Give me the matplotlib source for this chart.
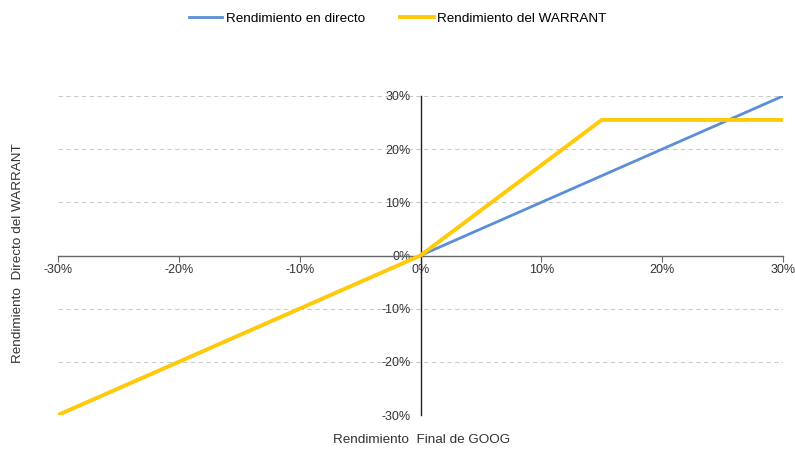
import matplotlib
matplotlib.use("Agg")
import matplotlib.pyplot as plt
from matplotlib.ticker import FuncFormatter

plt.rcParams['font.family'] = ['Liberation Sans', 'DejaVu Sans']

x_final = [-30, 0, 15, 30]
directo = [-30, 0, 15, 30]
warrant = [-30, 0, 25.5, 25.5]
ticks = [-30, -20, -10, 0, 10, 20, 30]

fig = plt.figure(figsize=(7.95, 4.5), dpi=100)
ax = fig.add_axes([58/795, 1-415/450, (783-58)/795, (415-96)/450])

ax.plot(x_final, directo, color='#5B8ED6', lw=2, label='Rendimiento en directo', zorder=3)
ax.plot(x_final, warrant, color='#FFCA08', lw=2.8, label='Rendimiento del WARRANT', zorder=4)

ax.set_xlim(-30, 30)
ax.set_ylim(-30, 30)
ax.set_xticks(ticks)
ax.set_yticks(ticks)
fmt = FuncFormatter(lambda v, p: f"{v:.0f}%")
ax.xaxis.set_major_formatter(fmt)
ax.yaxis.set_major_formatter(fmt)

for s in ['top', 'right']:
    ax.spines[s].set_visible(False)
ax.spines['left'].set_position(('data', 0))
ax.spines['bottom'].set_position(('data', 0))
ax.spines['left'].set_color('#222222')
ax.spines['bottom'].set_color('#666666')
ax.spines['left'].set_linewidth(1)
ax.spines['bottom'].set_linewidth(1)

ax.tick_params(axis='x', direction='out', length=4, color='#666666', labelsize=9, labelcolor='#333333', pad=2)
ax.tick_params(axis='y', length=0, labelsize=9, labelcolor='#333333', pad=7)

ax.yaxis.grid(True, color='#CCCCCC', linestyle=(0, (4, 3)), lw=0.8)
ax.set_axisbelow(True)

fig.text(18/795, 1-253/450, 'Rendimiento  Directo del WARRANT', rotation=90, ha='center', va='center', fontsize=9.7, color='#333333')
fig.text(422/795, 1-440/450, 'Rendimiento  Final de GOOG', ha='center', va='center', fontsize=9.7, color='#333333')

fig.legend(loc='center', bbox_to_anchor=(0.5, 1-19/450), ncol=2, frameon=False, fontsize=9.7,
           handlelength=2.5, handletextpad=0.25, columnspacing=2.6)

fig.savefig('out.png', dpi=100)
